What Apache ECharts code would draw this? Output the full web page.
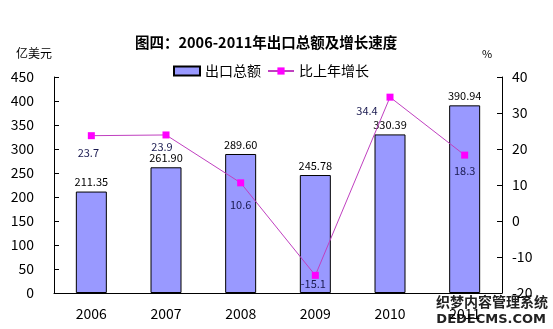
<!DOCTYPE html>
<html>
<head>
<meta charset="utf-8">
<script src="https://cdn.jsdelivr.net/npm/echarts@6/dist/echarts.min.js"></script>
<style>
  html, body { margin: 0; padding: 0; background: #fff; }
  #main { width: 553px; height: 329px; }
</style>
</head>
<body>
<div id="main"></div>
<script>
// data
var years = ['2006', '2007', '2008', '2009', '2010', '2011'];
var exportTotal = [211.35, 261.90, 289.60, 245.78, 330.39, 390.94];
var growthRate = [23.7, 23.9, 10.6, -15.1, 34.4, 18.3];

// where each growth label sits relative to its point (px)
var growthLabelShift = [[-3, 17], [-4, 12], [0, 22], [-2, 8], [-23, 14], [0, 16]];

var chart = echarts.init(document.getElementById('main'), null, { renderer: 'canvas' });
var font = '"Noto Sans CJK SC", "DejaVu Sans", sans-serif';

var option = {
  backgroundColor: '#fff',
  animation: false,
  textStyle: { fontFamily: font },
  title: {
    text: '图四：2006-2011年出口总额及增长速度',
    left: 130,
    top: 30,
    textStyle: { fontSize: 14.5, fontWeight: 'bold', color: '#000', fontFamily: font }
  },
  legend: {
    top: 59,
    left: 168,
    itemGap: 6,
    itemWidth: 26,
    itemHeight: 9,
    textStyle: { fontSize: 14, color: '#000', padding: [0, 0, 0, 0] },
    data: [
      { name: '出口总额', icon: 'rect' },
      { name: '比上年增长' }
    ]
  },
  grid: { left: 54, right: 51, top: 77, bottom: 36 },
  xAxis: {
    type: 'category',
    data: years,
    axisLine: { lineStyle: { color: '#000' } },
    axisTick: { inside: true, length: 5, lineStyle: { color: '#000' } },
    axisLabel: { color: '#000', fontSize: 14, margin: 14 }
  },
  yAxis: [
    {
      type: 'value',
      name: '亿美元',
      nameLocation: 'end',
      nameGap: 18,
      nameTextStyle: { color: '#000', fontSize: 12, align: 'right', padding: [0, 2, 0, 0] },
      min: 0, max: 450, interval: 50,
      axisLine: { show: true, lineStyle: { color: '#000' } },
      axisTick: { show: true, inside: true, length: 5, lineStyle: { color: '#000' } },
      axisLabel: { color: '#000', fontSize: 14, margin: 20 },
      splitLine: { show: false }
    },
    {
      type: 'value',
      name: '%',
      nameLocation: 'end',
      nameGap: 18,
      nameTextStyle: { color: '#000', fontSize: 11, align: 'left', padding: [0, 0, 0, -20] },
      min: -20, max: 40, interval: 10,
      axisLine: { show: true, lineStyle: { color: '#000' } },
      axisTick: { show: true, inside: true, length: 5, lineStyle: { color: '#000' } },
      axisLabel: { color: '#000', fontSize: 14, margin: 10 },
      splitLine: { show: false }
    }
  ],
  series: [
    {
      name: '出口总额',
      type: 'bar',
      data: exportTotal,
      barWidth: 31,
      itemStyle: { color: '#9999FF', borderColor: '#000', borderWidth: 1 },
      label: {
        show: true,
        position: 'top',
        distance: 4,
        fontSize: 11,
        color: '#000',
        formatter: function (p) { return p.value.toFixed(2); }
      }
    },
    {
      name: '比上年增长',
      type: 'line',
      yAxisIndex: 1,
      data: growthRate.map(function (v, i) {
        return { value: v, label: { offset: growthLabelShift[i] } };
      }),
      symbol: 'rect',
      symbolSize: 7,
      lineStyle: { color: '#C040C0', width: 1 },
      itemStyle: { color: '#FF00FF' },
      z: 3,
      label: {
        show: true,
        position: 'inside',
        fontSize: 11,
        color: '#1a1a50',
        formatter: function (p) { return p.value.toFixed(1); }
      }
    }
  ],
  graphic: [
    {
      type: 'text',
      right: 4,
      top: 294,
      style: {
        text: '织梦内容管理系统',
        font: 'bold 14px "Noto Sans CJK SC"',
        fill: '#222',
        stroke: '#fff',
        lineWidth: 2
      }
    },
    {
      type: 'text',
      right: 6,
      top: 312,
      style: {
        text: 'DEDECMS.COM',
        font: 'bold 13px "DejaVu Sans"',
        fill: '#222',
        stroke: '#fff',
        lineWidth: 2
      }
    }
  ]
};

chart.setOption(option);
</script>
</body>
</html>
